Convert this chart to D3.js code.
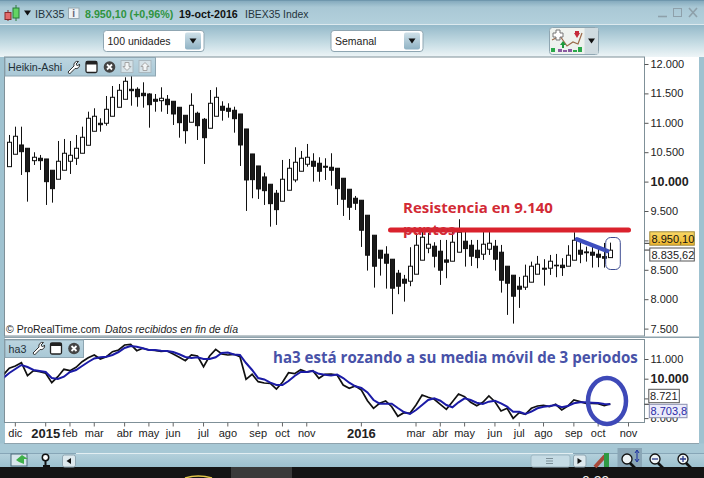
<!DOCTYPE html>
<html><head><meta charset="utf-8">
<style>html,body{margin:0;padding:0;background:#fff;overflow:hidden}svg{display:block}text{font-family:"Liberation Sans",Arial,sans-serif}</style>
<script src="https://cdn.jsdelivr.net/npm/d3@7/dist/d3.min.js"></script>
</head><body><svg id="c" width="704" height="478"></svg>
<script>
const opens=[10254,10465,10623,10567,10356,10397,10385,10193,10040,10193,10346,10397,10482,10618,10856,10992,10992,11111,11264,11400,11570,11570,11502,11490,11400,11376,11400,11366,11264,11128,11009,11162,11060,10907,11111,11281,11247,11213,11150,10895,10470,10266,10079,9955,9802,9666,9853,10028,10176,10295,10346,10312,10261,10244,10227,10057,9870,9717,9683,9428,9088,8833,8765,8680,8442,8340,8306,8425,8663,8867,8901,8816,8668,8646,8799,8986,8918,8833,8765,8850,8901,8799,8561,8408,8221,8204,8289,8425,8527,8527,8578,8578,8561,8663,8833,8804,8799,8765,8724,8707];
const closes=[10669,10771,10509,10169,10414,10356,9999,9880,10346,10482,10448,10567,10754,11077,11111,10968,11230,11434,11553,11706,11546,11444,11461,11308,11366,11417,11308,11150,11002,10866,11298,10951,10747,11332,11434,11213,11196,11070,10623,10028,10033,9875,9846,9625,9523,10040,10227,10329,10397,10414,10261,10176,10244,10193,9880,9700,9564,9632,9173,8748,8561,8697,8612,8187,8221,8272,8561,8918,9054,8935,8731,8493,8629,8969,9139,8860,8731,8707,8935,8952,8680,8323,8272,8051,8170,8391,8561,8595,8510,8646,8571,8537,8748,9003,8765,8790,8748,8714,8697,8833.62];
const highs=[10793,10934,10934,10567,10499,10453,10385,10193,10691,10725,10691,10793,10934,11189,11247,11077,11456,11626,11660,11774,11801,11604,11689,11502,11490,11604,11473,11366,11264,11128,11502,11189,11082,11558,11604,11366,11332,11274,11150,10895,10470,10266,10152,9955,9858,10368,10385,10584,10521,10640,10482,10414,10397,10482,10227,10057,9870,9756,9683,9428,9088,8833,8901,8680,8498,8413,8884,9127,9161,9127,8969,9008,9008,9149,9360,9178,9008,9008,9149,9149,9008,8923,8561,8408,8379,8588,8639,8736,8680,8753,8770,8697,8918,9139,9008,8894,8923,8894,8957,8962];
const lows=[10254,10465,10113,9659,10283,10198,9603,9642,10040,10193,10130,10283,10482,10618,10856,10849,10951,11111,11264,11400,11291,11274,11257,10917,11189,11189,11150,10963,10747,10645,11009,10708,10300,10907,11111,11036,11087,10832,10266,9501,9717,9705,9603,9234,9263,9666,9853,9989,10176,10254,9999,9999,10028,9931,9603,9416,9348,9518,8889,8486,8197,8401,8180,7745,8085,7959,8221,8425,8663,8782,8540,8243,8357,8646,8799,8554,8566,8527,8668,8753,8486,8112,7733,7585,7852,8158,8289,8425,8231,8413,8374,8396,8561,8663,8612,8639,8537,8544,8537,8707];
const ha3=[10188,10528,10645,10812,10152,10406,10355,10274,9797,10102,10477,10406,10579,10863,11066,11203,11000,11117,11370,11457,11711,11746,11421,11543,11457,11442,11391,11406,11254,11086,10914,11203,11152,10609,11152,11492,11254,11203,11239,11117,9970,10223,9848,9782,9767,9477,9817,10305,10254,10457,10340,10406,10020,10223,10239,10188,9680,9513,9630,9427,8883,8498,8752,8868,8579,8092,8274,8244,8665,9173,9056,8955,8701,8447,8833,9224,9086,8802,8630,8802,9122,8833,8361,8498,7990,8274,8193,8498,8615,8650,8579,8701,8412,8615,8919,8833,8752,8752,8732,8630,8721];
const ha3Avg=[10035,10289,10492,10695,10594,10442,10391,10340,10035,9985,10102,10340,10442,10645,10848,11026,11086,11117,11203,11355,11558,11660,11625,11543,11457,11457,11421,11406,11355,11239,11102,11051,11086,11000,11000,11086,11305,11330,11229,11203,10797,10442,10035,9960,9797,9680,9680,9883,10137,10340,10340,10391,10249,10203,10163,10208,10035,9797,9615,9528,9300,8919,8732,8732,8732,8513,8310,8208,8411,8665,8919,9005,8883,8665,8548,8802,9005,8919,8782,8716,8833,8883,8752,8579,8325,8325,8208,8325,8498,8579,8615,8665,8548,8615,8752,8802,8802,8782,8766,8716,8703.8];
const priceTicks=[12000,11500,11000,10500,10000,9500,9000,8500,8000,7500];
const ha3Ticks=[11000,10000,9000,8000];
const hiddenTickLabels=[9000];
const monthIdx=[2,7,11,15,20,24,28,33,37,42,46,50,59,68,72,76,81,85,89,94,98,103];
const monthLbl=["dic","2015","feb","mar","abr","may","jun","jul","ago","sep","oct","nov","2016","mar","abr","may","jun","jul","ago","sep","oct","nov"];

const svg=d3.select("#c");
const defs=svg.append("defs");
function grad(id,stops){const g=defs.append("linearGradient").attr("id",id).attr("x1",0).attr("x2",0).attr("y1",0).attr("y2",1);
 stops.forEach(s=>g.append("stop").attr("offset",s[0]).attr("stop-color",s[1]));}
grad("gTitle",[[0,"#7fa6ba"],[0.3,"#a9c8d5"],[1,"#b3d0dc"]]);
grad("gBar",[[0,"#94b9c9"],[0.55,"#c4dbe3"],[1,"#eef5f7"]]);
grad("gBtn",[[0,"#cfe0e8"],[1,"#8fb2c4"]]);
grad("gBot",[[0,"#b5d1dc"],[1,"#9cc0ce"]]);
grad("gYel",[[0,"#f8d867"],[1,"#eeb52c"]]);
grad("gTab",[[0,"#bcd5e0"],[1,"#a9c8d6"]]);
svg.append("clipPath").attr("id","cpMain").append("rect").attr("x",4.5).attr("y",57).attr("width",640).attr("height",279);
svg.append("clipPath").attr("id","cpLow").append("rect").attr("x",4.5).attr("y",339.5).attr("width",640).attr("height",83);

const x=d3.scaleLinear().domain([0,100]).range([3.2,610.3]);
const yP=d3.scaleLinear().domain([7500,12000]).range([328.6,64]);
const yI=d3.scaleLinear().domain([8000,11000]).range([418.1,359]);

const bg=(x0,y0,w,h,f)=>svg.append("rect").attr("x",x0).attr("y",y0).attr("width",w).attr("height",h).attr("fill",f);
const label=(t,x0,y0,o={})=>svg.append("text").attr("x",x0).attr("y",y0).text(t)
  .attr("font-size",o.s||11).attr("fill",o.c||"#222").attr("font-weight",o.b?"bold":null)
  .attr("font-style",o.i?"italic":null).attr("text-anchor",o.a||"start").style("font-family",o.f||null);
bg(0,0,704,478,"#9fc2d0");
bg(0,0,704,24,"url(#gTitle)");
bg(0,24,704,1,"#dce9ee");
bg(0,25,704,32,"url(#gBar)");
bg(5,57,694,386,"#ffffff");
bg(0,0,704,1,"#6f97ad");
bg(0,443.5,704,10,"#a7c8d5");
bg(0,453,704,14,"url(#gBot)");
bg(0,453,704,0.8,"#7c9cae");
bg(0,467,704,11,"#141414");
bg(231,467,61,11,"#3a3a3a");

svg.append("rect").attr("x",4.5).attr("y",57).attr("width",640).attr("height",279).attr("fill","#fff").attr("stroke","#7f9098");
svg.append("rect").attr("x",4.5).attr("y",339.5).attr("width",640).attr("height",83).attr("fill","#fff").attr("stroke","#7f9098");
bg(4,336.5,695,1.5,"#8fa3ad");
bg(4,443,695,1,"#8fa3ad");

const gC=svg.append("g").attr("clip-path","url(#cpMain)");
const idx=d3.range(opens.length);
gC.selectAll("line.w").data(idx).join("line").attr("class","w")
 .attr("x1",i=>Math.round(x(i+1))+.5).attr("x2",i=>Math.round(x(i+1))+.5)
 .attr("y1",i=>yP(highs[i])).attr("y2",i=>yP(lows[i])).attr("stroke","#111").attr("stroke-width",1);
gC.selectAll("rect.b").data(idx).join("rect").attr("class","b")
 .attr("x",i=>Math.round(x(i+1))-1.5).attr("width",4)
 .attr("y",i=>yP(Math.max(opens[i],closes[i])))
 .attr("height",i=>Math.max(.6,Math.abs(yP(opens[i])-yP(closes[i]))))
 .attr("fill",i=>closes[i]>=opens[i]?"#fff":"#1a1a1a").attr("stroke","#111").attr("stroke-width",1);

const tickFmt=d=>hiddenTickLabels.includes(d)?"":d3.format(",")(d).replace(",",".");
const axP=svg.append("g").attr("transform","translate(644.5,0)")
 .call(d3.axisRight(yP).tickValues(priceTicks).tickSize(4).tickPadding(2).tickFormat(tickFmt));
axP.select(".domain").remove();
axP.selectAll("line").attr("stroke","#555");
axP.selectAll("text").attr("fill","#222").style("font-family",'"Liberation Sans"')
 .attr("font-weight",d=>d===10000?"bold":null).attr("font-size",d=>d===10000?12.5:11);

const priceLast=8950.10, haLast=8835.62;
[[priceLast],[haLast]].forEach(v=>svg.append("line").attr("x1",644.5).attr("x2",650).attr("y1",yP(v[0])).attr("y2",yP(v[0])).attr("stroke","#333"));
svg.append("rect").attr("x",649.8).attr("y",231.8).attr("width",44.5).attr("height",13.4).attr("fill","url(#gYel)").attr("stroke","#a08a3c");
label("8.950,10",651.5,242.5,{c:"#111"});
svg.append("rect").attr("x",649.8).attr("y",248).attr("width",44.5).attr("height",13).attr("fill","#fff").attr("stroke","#555");
label("8.835,62",651.5,258.5,{c:"#222"});

const axI=svg.append("g").attr("transform","translate(644.5,0)")
 .call(d3.axisRight(yI).tickValues(ha3Ticks).tickSize(4).tickPadding(2).tickFormat(tickFmt));
axI.select(".domain").remove();
axI.selectAll("line").attr("stroke","#555");
axI.selectAll("text").style("font-family",'"Liberation Sans"').attr("fill","#222")
 .attr("font-weight",d=>d===10000?"bold":null).attr("font-size",d=>d===10000?12.5:11);
svg.append("line").attr("x1",644.5).attr("x2",650).attr("y1",yI(8703.8)).attr("y2",yI(8703.8)).attr("stroke","#222");
svg.append("rect").attr("x",648.8).attr("y",389.3).attr("width",30.5).attr("height",13.4).attr("fill","#fff").attr("stroke","#555");
label("8.721",650,400,{c:"#222"});
svg.append("rect").attr("x",649.3).attr("y",404.3).attr("width",37.7).attr("height",13.4).attr("fill","#ebebfa").attr("stroke","#8a8fb0");
label("8.703,8",650.5,415,{c:"#2a2aa8"});

const gI=svg.append("g").attr("clip-path","url(#cpLow)");
const lineOf=a=>d3.line().x((d,i)=>x(i)).y(d=>yI(d))(a);
gI.append("path").attr("d",lineOf(ha3)).attr("fill","none").attr("stroke","#111").attr("stroke-width",1.7);
gI.append("path").attr("d",lineOf(ha3Avg)).attr("fill","none").attr("stroke","#1b1ba6").attr("stroke-width",2);

const gX=svg.append("g");
gX.selectAll("line").data(monthIdx).join("line").attr("x1",d=>x(d)).attr("x2",d=>x(d)).attr("y1",422.5).attr("y2",426.5).attr("stroke","#666");
gX.selectAll("text").data(monthIdx).join("text").attr("x",d=>x(d)).attr("y",(d,i)=>/^\d/.test(monthLbl[i])?437.5:437)
 .attr("text-anchor","middle").text((d,i)=>monthLbl[i]).attr("fill","#222")
 .attr("font-size",(d,i)=>/^\d/.test(monthLbl[i])?13:11).attr("font-weight",(d,i)=>/^\d/.test(monthLbl[i])?"bold":null);

const annoFont='"Open Sans",sans-serif';
svg.append("line").attr("x1",x(63.8)).attr("x2",x(103)).attr("y1",yP(9175)).attr("y2",yP(9175)).attr("stroke","#da222d").attr("stroke-width",5).attr("stroke-linecap","round");
label("Resistencia en 9.140",403,213,{s:15,b:1,c:"#d22a35",f:annoFont});
label("puntos",403,235,{s:15,b:1,c:"#d22a35",f:annoFont});
svg.append("line").attr("x1",x(94.5)).attr("x2",x(99.5)).attr("y1",yP(9020)).attr("y2",yP(8820)).attr("stroke","#3f4fc0").attr("stroke-width",4.5).attr("stroke-linecap","round");
svg.append("rect").attr("x",605.7).attr("y",237.5).attr("width",14.6).attr("height",32).attr("rx",5).attr("fill","none").attr("stroke","#3c4c92").attr("stroke-width",1);
label("ha3 está rozando a su media móvil de 3 periodos",273,363,{s:15.1,b:1,c:"#4852a8",f:annoFont});
svg.append("ellipse").attr("cx",607).attr("cy",401).attr("rx",19).attr("ry",23).attr("fill","none").attr("stroke","#3e49b8").attr("stroke-width",4.5);

label("© ProRealTime.com",6,333,{s:10.5,c:"#222"});
label("Datos recibidos en fin de día",105,333,{s:10.5,i:1,c:"#222"});

function wrench(px,py){svg.append("path").attr("transform",`translate(${px},${py})`).attr("d","M-5 5 L1 -1 A3.6 3.6 0 0 1 5.5 -5.5 L3 -3 L4.5 -1 L6.5 -3 A3.6 3.6 0 0 1 2 1.5 L-3.5 7 Z").attr("fill","#fff").attr("stroke","#333").attr("stroke-width",1);}
function win(px,py){svg.append("rect").attr("x",px-5.5).attr("y",py-5.5).attr("width",11).attr("height",11).attr("rx",1.5).attr("fill","#fff").attr("stroke","#222").attr("stroke-width",1.3);svg.append("rect").attr("x",px-5.5).attr("y",py-5.5).attr("width",11).attr("height",3).attr("fill","#222");}
function closeBtn(px,py){svg.append("circle").attr("cx",px).attr("cy",py).attr("r",5.8).attr("fill","#444");svg.append("path").attr("d",`M${px-2.5} ${py-2.5}L${px+2.5} ${py+2.5}M${px+2.5} ${py-2.5}L${px-2.5} ${py+2.5}`).attr("stroke","#fff").attr("stroke-width",1.8);}
function ghost(px,py,up){svg.append("rect").attr("x",px-6).attr("y",py-6).attr("width",12).attr("height",12).attr("fill","#d5e2e8").attr("stroke","#aab8bf");svg.append("path").attr("d",up?`M${px} ${py-4}L${px+4} ${py}H${px+2}V${py+4}H${px-2}V${py}H${px-4}Z`:`M${px} ${py+4}L${px+4} ${py}H${px+2}V${py-4}H${px-2}V${py}H${px-4}Z`).attr("fill","#f2f5f6").attr("stroke","#a5a5a5");}
svg.append("rect").attr("x",5).attr("y",57.5).attr("width",150.5).attr("height",18.5).attr("fill","url(#gTab)").attr("stroke","#8ea6b2");
label("Heikin-Ashi",8,70.5,{s:10.7,c:"#1f2f38"});
wrench(73,67);win(91.5,67);closeBtn(109.5,67);ghost(127,66.5,false);ghost(145,66.5,true);
svg.append("rect").attr("x",5).attr("y",340).attr("width",78.5).attr("height",17.5).attr("fill","url(#gTab)").attr("stroke","#8ea6b2");
label("ha3",8.5,352.5,{s:10.7,c:"#1f2f38"});
wrench(38,348);win(56,348.5);closeBtn(74,348.5);

svg.append("line").attr("x1",8).attr("x2",8).attr("y1",10).attr("y2",21).attr("stroke","#7a2a2a");
svg.append("rect").attr("x",5).attr("y",12.5).attr("width",6).attr("height",7).attr("fill","#e26a6a").attr("stroke","#8a2a2a");
svg.append("line").attr("x1",16).attr("x2",16).attr("y1",5).attr("y2",21).attr("stroke","#2a7a3a");
svg.append("rect").attr("x",13).attr("y",8).attr("width",6).attr("height",10).attr("fill","#63d463").attr("stroke","#2a7a3a");
const tri=(cx,cy,w,h,f)=>svg.append("path").attr("d",`M${cx-w} ${cy-h}H${cx+w}L${cx} ${cy+h}Z`).attr("fill",f||"#111");
tri(27.5,13,3.5,2.5);
label("IBX35",35,17.5,{s:10.8,c:"#24343c"});
svg.append("rect").attr("x",68.5).attr("y",8).attr("width",10.5).attr("height",10.5).attr("fill","#eef3f5").attr("stroke","#97a9b2");
label("i",73.7,17,{s:10,b:1,a:"middle",c:"#667"});
label("8.950,10 (+0,96%)",85,17.5,{s:10.7,b:1,c:"#2f9440"});
label("19-oct-2016",179,17.5,{s:10.7,b:1,c:"#111"});
label("IBEX35 Index",245,17.5,{s:10.4,c:"#24343c"});
svg.append("path").attr("d","M658 16.5H667").attr("stroke","#8ea0aa").attr("stroke-width",1.6);
svg.append("rect").attr("x",673.5).attr("y",8.5).attr("width",8).attr("height",8).attr("fill","none").attr("stroke","#8ea0aa");
svg.append("path").attr("d","M689 8L697 17M697 8L689 17").attr("stroke","#8ea0aa").attr("stroke-width",1.6);

function drop(x0,w,t){svg.append("rect").attr("x",x0+.5).attr("y",30.5).attr("width",w).attr("height",21).attr("rx",3).attr("fill","#fff").attr("stroke","#8fa6b2");
 svg.append("rect").attr("x",x0+w-18.5).attr("y",32.5).attr("width",16).attr("height",17).attr("rx",2).attr("fill","url(#gBtn)");
 tri(x0+w-10.5,41,3.5,2.5);label(t,x0+4.5,45,{s:10.5,c:"#222"});}
drop(103,100.5,"100 unidades");drop(330.5,92,"Semanal");

svg.append("rect").attr("x",549.5).attr("y",27.5).attr("width",49).attr("height",27).attr("rx",3).attr("fill","#eef2ee").attr("stroke","#8fa6b2");
svg.append("rect").attr("x",584.5).attr("y",28).attr("width",13.5).attr("height",26).attr("fill","#cfdbe0");
tri(591.5,41,3.5,2.5);
svg.append("path").attr("d","M552 40L560 36L567 46L573 42L578 44L582 33").attr("fill","none").attr("stroke","#9b6a4a").attr("stroke-width",1.2);
svg.append("path").attr("d","M556 30h4v3h3v4h-3v3h-4v-3h-3v-4h3z").attr("fill","#fff").attr("stroke","#777");
svg.append("path").attr("d","M575 33h4v-2h-4zM577 38l3-5h-6z").attr("fill","#c62a3a");
svg.append("path").attr("d","M563 41l3 4h-2v3h-2v-3h-2z").attr("fill","#1d9a3c");
[[551,4,"#2aa84a"],[558,3,"#8a5aa0"],[563,2,"#8a5aa0"],[568,3,"#8a5aa0"],[573,2,"#2aa84a"],[578,5,"#2aa84a"]].forEach(a=>bg(a[0],52-a[1],4,a[1],a[2]));

svg.append("rect").attr("x",11).attr("y",454).attr("width",16).attr("height",12).attr("fill","#d8e6ec").attr("stroke","#4a6a7a");
svg.append("path").attr("d","M16 460L22 455L28 459L24 459V464L19 462Z").attr("fill","#3fb04a");
svg.append("circle").attr("cx",45.5).attr("cy",457.5).attr("r",3.2).attr("fill","#fff").attr("stroke","#111").attr("stroke-width",1.5);
svg.append("path").attr("d","M45.5 461V466M43 466H50").attr("stroke","#111").attr("stroke-width",2);
svg.append("rect").attr("x",62.5).attr("y",455).attr("width",13).attr("height",12).attr("rx",2).attr("fill","#dde9ee").attr("stroke","#8fa6b2");
svg.append("path").attr("d","M71 458V464L66.5 461Z").attr("fill","#111");
svg.append("line").attr("x1",76).attr("x2",573).attr("y1",453.5).attr("y2",453.5).attr("stroke","#e2eef2");
svg.append("rect").attr("x",531).attr("y",455).attr("width",39).attr("height",12).attr("rx",2).attr("fill","#c5dbe4").attr("stroke","#9fb8c3");
svg.append("path").attr("d","M546 458.5H553M546 461H553M546 463.5H553").attr("stroke","#7c8f98");
svg.append("rect").attr("x",573.5).attr("y",455).attr("width",12.5).attr("height",12).attr("rx",2).attr("fill","#dde9ee").attr("stroke","#8fa6b2");
svg.append("path").attr("d","M577.5 458V464L582 461Z").attr("fill","#111");
svg.append("path").attr("d","M595 467L605 456").attr("stroke","#a84a3a").attr("stroke-width",4);
bg(604,453,5,14,"#2f9a44");
bg(617.5,448,24.5,19,"#8aa6b6");
function glass(px,py,sign){svg.append("line").attr("x1",px+3).attr("y1",py+4).attr("x2",px+8).attr("y2",py+9).attr("stroke","#111").attr("stroke-width",2.6);
 svg.append("circle").attr("cx",px).attr("cy",py).attr("r",5).attr("fill","#eef3f5").attr("stroke","#111").attr("stroke-width",1.3);
 if(sign){svg.append("path").attr("d",sign==="+"?`M${px-3} ${py}H${px+3}M${px} ${py-3}V${py+3}`:`M${px-3} ${py}H${px+3}`).attr("stroke","#2a3a8a").attr("stroke-width",1.3);}}
glass(627,459,null);
svg.append("path").attr("d","M637 451V461M635 453L637 450L639 453M635 459L637 462L639 459").attr("stroke","#1b2fa0").attr("fill","none");
glass(655,459,"-");glass(683,459,"+");
svg.append("path").attr("d","M185 478Q198 474 212 478").attr("fill","none").attr("stroke","#e5c84a").attr("stroke-width",1.5);
label("0:39",582,485.5,{s:14,c:"#eee"});
</script></body></html>
